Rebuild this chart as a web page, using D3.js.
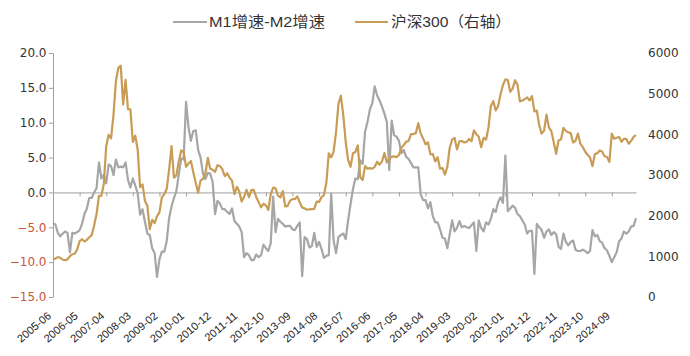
<!DOCTYPE html>
<html><head><meta charset="utf-8">
<script src="https://cdn.jsdelivr.net/npm/d3@7"></script>
<style>body{margin:0;background:#fff}svg{display:block}</style>
</head><body>
<svg id="c" width="690" height="356"></svg>
<script>
// ---- data ----
const startYear = 2005, startMonth = 6;   // first category: 2005-06
const tickLabels = ["2005-06","2006-05","2007-04","2008-03","2009-02","2010-01","2010-12","2011-11","2012-10","2013-09","2014-08","2015-07","2016-06","2017-05","2018-04","2019-03","2020-02","2021-01","2021-12","2022-11","2023-10","2024-09"];
const leftTicks = [20, 15, 10, 5, 0, -5, -10, -15];
const rightTicks = [0, 1000, 2000, 3000, 4000, 5000, 6000];
const seriesNames = ["M1增速-M2增速", "沪深300（右轴）"];
// M1 growth minus M2 growth (%), monthly 2005-06 .. 2025-07
const spread = [
 -4.4,-4.6,-5.8,-6.3,-5.9,-5.6,-5.8,
 -8.6,-5.8,-5.9,-5.7,-5.4,-4.5,-3.1,-2.3,-0.8,-0.8,0.0,0.6,
 4.3,2.0,2.5,1.3,4.0,3.8,2.5,4.7,3.6,3.7,3.6,4.3,
 1.8,0.7,2.0,1.0,-0.1,-3.2,-2.4,-4.2,-5.9,-6.1,-8.0,-8.7,
 -12.1,-9.6,-8.5,-8.5,-7.0,-3.7,-2.0,-0.8,0.2,2.6,4.9,4.7,
 13.0,9.4,7.4,8.8,8.9,6.1,5.0,2.7,1.9,2.8,2.7,1.5,
 -3.1,-1.2,-1.6,-2.4,-2.4,-2.8,-3.1,-2.3,-4.1,-4.5,-4.9,-5.7,
 -9.3,-8.7,-9.0,-9.7,-9.7,-8.9,-9.3,-9.0,-7.5,-8.0,-8.4,-7.3,
 -0.6,-5.7,-3.8,-4.2,-4.5,-4.9,-4.8,-4.8,-5.3,-5.4,-4.8,-4.3,
 -12.0,-6.4,-6.7,-7.9,-7.7,-5.8,-7.8,-7.1,-8.1,-9.4,-9.1,-9.0,
 -0.2,-6.9,-8.7,-6.4,-6.1,-5.9,-6.7,-4.0,-1.7,0.5,2.0,1.9,
 4.6,4.1,8.7,10.1,11.9,12.8,15.2,13.9,13.2,12.3,11.3,10.1,
 3.2,10.3,8.2,8.0,7.4,5.6,6.1,5.1,4.8,4.2,3.6,3.6,
 3.6,-0.3,-1.1,-1.1,-2.3,-1.4,-3.4,-4.3,-4.3,-5.3,-6.5,-6.6,
 -8.0,-6.0,-4.0,-5.6,-5.1,-4.1,-5.0,-4.8,-5.0,-5.1,-4.7,-4.3,
 -8.4,-4.0,-5.1,-5.6,-4.3,-4.6,-3.8,-2.4,-2.8,-1.4,-0.7,-1.5,
 5.3,-2.7,-2.3,-1.9,-2.2,-3.1,-3.4,-4.0,-4.6,-5.9,-5.5,-5.5,
 -11.7,-4.5,-5.0,-5.4,-6.5,-5.6,-5.3,-6.1,-5.7,-6.0,-7.8,-8.1,
 -5.9,-7.1,-7.6,-7.1,-6.9,-8.2,-8.4,-8.4,-8.2,-8.4,-8.7,-8.4,
 -5.4,-6.3,-6.1,-7.0,-7.2,-8.0,-8.3,-9.1,-10.0,-9.3,-8.6,-7.0,
 -6.6,-5.6,-5.9,-5.6,-4.9,-4.8,-3.7
];
// CSI 300 month-end close, same months
const csi300 = [
 928,943,982,965,917,906,924,
 1003,1051,1063,1171,1372,1420,1365,1407,1470,1522,1756,2041,
 2488,2489,2781,3710,3989,3901,4471,5307,5636,5688,4738,5338,
 4617,4612,3811,3966,3634,2701,2769,2369,2246,1666,1897,1817,
 1990,2082,2450,2531,2654,3131,3712,2937,2990,3338,3603,3576,
 3204,3281,3345,3067,2810,2564,2867,2903,3043,3419,3155,3128,
 3077,3240,3222,3143,2970,3044,2936,2860,2530,2709,2594,2346,
 2464,2634,2454,2626,2635,2461,2333,2204,2293,2254,2140,2523,
 2688,2673,2495,2447,2606,2226,2240,2368,2409,2412,2473,2330,
 2203,2179,2146,2157,2161,2165,2346,2339,2451,2508,2809,3533,
 3434,3572,4051,4749,4950,4473,3816,3366,3202,3534,3566,3731,
 2946,2877,3218,3157,3169,3154,3203,3327,3253,3336,3538,3310,
 3387,3452,3456,3439,3493,3666,3737,3822,3837,4006,4006,4030,
 4275,4023,3899,3756,3802,3510,3517,3335,3438,3153,3173,3011,
 3201,3670,3872,3913,3630,3826,3836,3799,3814,3887,3829,4097,
 4003,3940,3686,3912,3868,4164,4695,4817,4587,4695,4980,5211,
 5352,5336,5048,5124,5331,5224,4811,4831,4866,4909,4833,4940,
 4564,4582,4222,4016,4091,4485,4170,4079,3804,3521,3854,3872,
 4157,4086,4051,4030,3798,3842,4018,3765,3690,3573,3497,3431,
 3216,3516,3537,3604,3580,3462,3442,3321,4018,3891,3917,3935,
 3817,3890,3887,3770,3840,3936,3980
];
const categories = spread.map((_, i) => {
  const m = startMonth - 1 + i;
  return `${startYear + Math.floor(m / 12)}-${String(m % 12 + 1).padStart(2, "0")}`;
});

// ---- drawing ----
const svg = d3.select("#c");
const GRAY = "#a6a6a6", GOLD = "#c99c55", AXIS = "#a0a0a0";
const x = d3.scaleLinear().domain([0, categories.length - 1]).range([53, 636]);
const yL = d3.scaleLinear().domain([-15, 20]).range([297, 53]);
const yR = d3.scaleLinear().domain([0, 6000]).range([297, 53]);
const tickIdx = tickLabels.map(l => categories.indexOf(l));

// left axis
const gL = svg.append("g").attr("transform", "translate(53,0)")
  .call(d3.axisLeft(yL).tickValues(leftTicks).tickSize(4).tickSizeOuter(0).tickPadding(2.5).tickFormat(d3.format(".1f")));
gL.select(".domain").attr("stroke", AXIS);
gL.selectAll(".tick line").attr("stroke", AXIS);
gL.selectAll(".tick text").attr("font-family", "DejaVu Sans").attr("font-size", 12)
  .attr("fill", d => d < 0 ? "#c8553d" : "#333");

// right axis (labels only)
const gR = svg.append("g").attr("transform", "translate(648,0)")
  .call(d3.axisRight(yR).tickValues(rightTicks).tickSize(0).tickPadding(0).tickFormat(d3.format("d")));
gR.select(".domain").remove();
gR.selectAll(".tick line").remove();
gR.selectAll(".tick text").attr("font-family", "DejaVu Sans").attr("font-size", 12).attr("fill", "#333");

// zero line with ticks
const gZ = svg.append("g").attr("transform", `translate(0,${yL(0)})`)
  .call(d3.axisBottom(x).tickValues(tickIdx).tickSize(4).tickSizeOuter(0).tickFormat(""));
gZ.select(".domain").attr("stroke", AXIS);
gZ.selectAll(".tick line").attr("stroke", AXIS);

// category labels at bottom
const gX = svg.append("g").attr("transform", "translate(0,305)")
  .call(d3.axisBottom(x).tickValues(tickIdx).tickSize(0).tickFormat(i => categories[i]));
gX.select(".domain").remove();
gX.selectAll(".tick text").attr("font-family", "Liberation Sans, Arial, sans-serif").attr("font-size", 11)
  .attr("fill", "#222").attr("text-anchor", "end").attr("x", 0).attr("y", 0).attr("dy", "0.35em")
  .attr("transform", "translate(-4,9) rotate(-40)");

// lines
const lineL = d3.line().x((d, i) => x(i)).y(d => yL(d));
const lineR = d3.line().x((d, i) => x(i)).y(d => yR(d));
svg.append("path").datum(spread).attr("d", lineL).attr("fill", "none")
  .attr("stroke", GRAY).attr("stroke-width", 2.2).attr("stroke-linejoin", "round");
svg.append("path").datum(csi300).attr("d", lineR).attr("fill", "none")
  .attr("stroke", GOLD).attr("stroke-width", 2.2).attr("stroke-linejoin", "round");

// legend
const legend = [
  {name: seriesNames[0], color: GRAY, x0: 173, x1: 207, tx: 209, tw: 116},
  {name: seriesNames[1], color: GOLD, x0: 355, x1: 388, tx: 391, tw: 120}
];
const lg = svg.append("g");
legend.forEach(l => {
  lg.append("line").attr("x1", l.x0).attr("x2", l.x1).attr("y1", 22).attr("y2", 22)
    .attr("stroke", l.color).attr("stroke-width", 2);
  lg.append("text").attr("x", l.tx).attr("y", 22).attr("dy", "0.36em")
    .attr("font-family", "Liberation Sans, Noto Sans CJK SC, sans-serif").attr("font-size", 15)
    .attr("fill", "#333").attr("textLength", l.tw).attr("lengthAdjust", "spacingAndGlyphs").text(l.name);
});
</script>
</body></html>
